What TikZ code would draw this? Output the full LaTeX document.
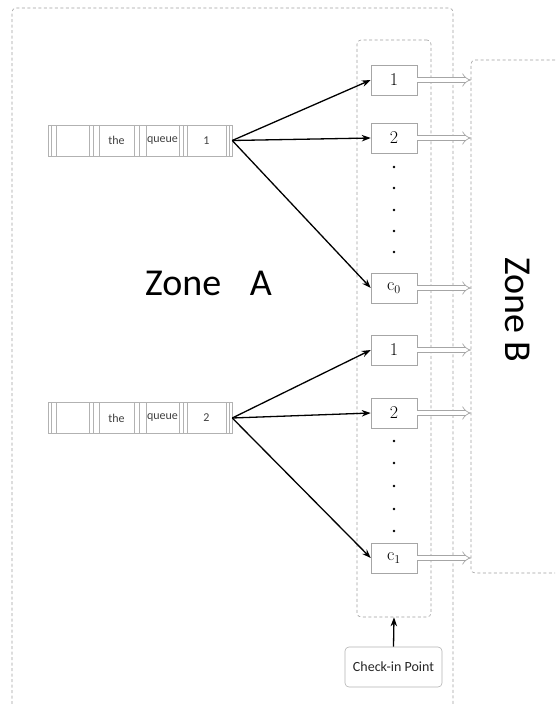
\documentclass[tikz,border=0pt]{standalone}
\usepackage{fontspec}
\setsansfont{Carlito}
\usetikzlibrary{positioning,arrows.meta}

\begin{document}
\begin{tikzpicture}[
    x=1pt, y=-1pt,
    >={Stealth[length=9pt,width=6.5pt]},
    zone/.style={draw=gray!75, line width=0.6pt, dash pattern=on 3pt off 2.5pt, rounded corners=4pt},
    counter/.style={draw=gray!70, line width=0.5pt, minimum width=46pt, minimum height=30pt, inner sep=0pt, font=\fontsize{18}{20}\selectfont},
    queuebox/.style={draw=gray!60, line width=0.5pt, minimum width=184pt, minimum height=31pt, inner sep=0pt},
    qtext/.style={font=\sffamily\fontsize{12}{14}\selectfont, text=black!75},
    feed/.style={->, line width=1.3pt},
    pass/.style={double=white, draw=gray!70, line width=0.7pt, double distance=4pt, -{Implies[length=6pt]}}
]
\useasboundingbox (0,0) rectangle (555,704);

% zones
\draw[zone] (12,704) -- (12,8) -- (453,8) -- (453,704);
\draw[zone] (555,60) -- (471,60) -- (471,573) -- (555,573);
\coordinate (zB) at (471,60);
\node[zone, minimum width=74pt, minimum height=577pt] (col) at (394,328.5) {};

\node[font=\sffamily\fontsize{38}{44}\selectfont] (zoneA) at (208.5,283) {Zone\hspace{0.75em}A};
\node[font=\sffamily\fontsize{38}{44}\selectfont, rotate=-90] (zoneBlabel) at (518,310) {Zone B};

% queues
\foreach \q/\y in {1/140.5, 2/418} {
  \node[queuebox] (q\q) at (140,\y) {};
  \foreach \d in {3,8,41,45,51,86,91,98,131,135,139,178,181}
    \draw[gray!60, line width=0.5pt] ([xshift=\d pt]q\q.north west) -- ([xshift=\d pt]q\q.south west);
  \node[qtext] at (116.5,\y) {the};
  \node[qtext] at (162.5,\y) {queue};
  \node[qtext] at (206.5,\y) {\q};
}

% counters, first group
\node[counter] (a1) at (394,80) {1};
\node[counter] (a2) at (394,138) {2};
\node[counter] (a3) at (394,288) {$\mathrm{c}_0$};
\foreach \y in {167,188,210,231,252}
  \fill (394,\y) circle (1.3pt);

% counters, second group
\node[counter] (b1) at (394,350) {1};
\node[counter] (b2) at (394,413) {2};
\node[counter] (b3) at (394,558) {$\mathrm{c}_1$};
\foreach \y in {441,463,486,509,531}
  \fill (394,\y) circle (1.3pt);

\foreach \n in {a1,a2,a3} \draw[feed] (q1.east) -- (\n.west);
\foreach \n in {b1,b2,b3} \draw[feed] (q2.east) -- (\n.west);
\foreach \n in {a1,a2,a3,b1,b2,b3} \draw[pass] (\n.east) -- (\n.east -| zB);

% check-in point
\node[draw=gray!60, line width=0.6pt, rounded corners=4pt, minimum width=97pt, minimum height=40pt, inner sep=0pt,
      font=\sffamily\fontsize{14}{16}\selectfont, text=black!85] (chk) at (393.5,667) {Check-in Point};
\draw[feed] (chk.north) -- (col.south);
\end{tikzpicture}
\end{document}
